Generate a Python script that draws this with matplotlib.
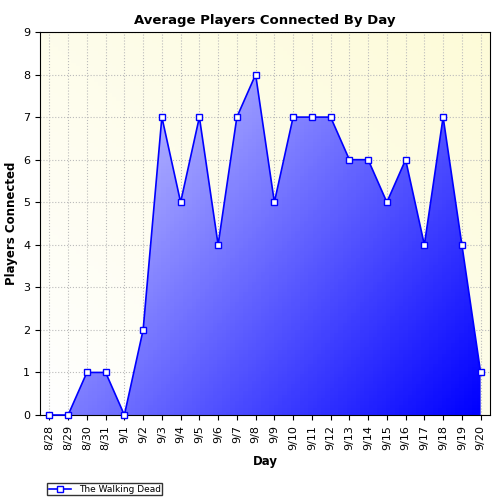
import numpy as np
import matplotlib.pyplot as plt
from matplotlib.patches import Polygon
from matplotlib.colors import LinearSegmentedColormap

days = ["8/28", "8/29", "8/30", "8/31", "9/1", "9/2", "9/3", "9/4", "9/5", "9/6",
        "9/7", "9/8", "9/9", "9/10", "9/11", "9/12", "9/13", "9/14", "9/15", "9/16",
        "9/17", "9/18", "9/19", "9/20"]
players = [0, 0, 1, 1, 0, 2, 7, 5, 7, 4, 7, 8, 5, 7, 7, 7, 6, 6, 5, 6, 4, 7, 4, 1]

fig = plt.figure(figsize=(5, 5), dpi=100)
ax = fig.add_axes([0.08, 0.17, 0.9, 0.766])
x = np.arange(len(days))
n = len(days) - 1

# background gradient
yy, xx = np.mgrid[0:1:100j, 0:1:100j]
bg = LinearSegmentedColormap.from_list("bg", ["#ffffff", "#fdfbd8"])
ax.imshow(xx * 0.5 + yy * 0.5, cmap=bg, extent=[-0.5, n + 0.5, 0, 9],
          origin="lower", aspect="auto", zorder=0)

# filled area gradient
fillmap = LinearSegmentedColormap.from_list("fill", ["#d8d8ff", "#0000ff"])
g = xx * 0.6 + (1 - yy) * 0.4
im = ax.imshow(g, cmap=fillmap, extent=[0, n, 0, 8], origin="lower",
               aspect="auto", zorder=2)
poly = Polygon(list(zip(x, players)) + [(n, 0), (0, 0)], closed=True,
               facecolor="none", edgecolor="none")
ax.add_patch(poly)
im.set_clip_path(poly)

ax.plot(x, players, color="#0000ff", lw=1.2, marker="s", markersize=4.5,
        markerfacecolor="white", markeredgecolor="#0000ff", zorder=3,
        label="The Walking Dead", clip_on=False)

ax.set_xlim(-0.5, n + 0.5)
ax.set_ylim(0, 9)
ax.set_yticks(range(10))
ax.set_xticks(x)
ax.set_xticklabels(days, rotation=90, fontsize=8)
ax.tick_params(axis="y", labelsize=8)
ax.grid(True, color="#bbbbbb", linestyle=":", lw=0.8, zorder=1)
ax.set_axisbelow(True)
ax.set_title("Average Players Connected By Day", fontsize=9.5, fontweight="bold")
ax.set_xlabel("Day", fontsize=8.5, fontweight="bold")
ax.set_ylabel("Players Connected", fontsize=8.5, fontweight="bold")
fig.legend(loc="lower left", bbox_to_anchor=(0.085, 0.0), fontsize=6.5,
           frameon=True, fancybox=False, edgecolor="black",
           borderpad=0.2, handlelength=2.5)

fig.savefig("out.png", dpi=100)
